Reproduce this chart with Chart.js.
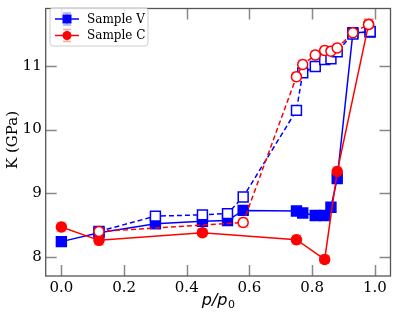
<!DOCTYPE html>
<html>
<head>
<meta charset="utf-8">
<script src="https://cdn.jsdelivr.net/npm/chart.js@4.4.0/dist/chart.umd.min.js"></script>
<style>
  html, body { margin: 0; padding: 0; background: #fff; }
  #wrap { width: 399px; height: 317px; position: relative; }
</style>
</head>
<body>
<div id="wrap"><canvas id="c" width="399" height="317"></canvas></div>
<script>
// ---- data ----
const vAdsX = [0.0, 0.12, 0.30, 0.45, 0.53, 0.58, 0.75, 0.77, 0.81, 0.84, 0.86, 0.88, 0.93, 0.985];
const vAdsY = [8.24, 8.38, 8.52, 8.56, 8.57, 8.73, 8.72, 8.69, 8.65, 8.65, 8.78, 9.23, 11.52, 11.53];
const vAdsErr = [0.04, 0.04, 0.04, 0.04, 0.04, 0.04, 0.04, 0.04, 0.04, 0.04, 0.04, 0.05, 0.05, 0.05];
const vDesX = [0.12, 0.30, 0.45, 0.53, 0.58, 0.75, 0.77, 0.81, 0.84, 0.86, 0.88, 0.93, 0.985];
const vDesY = [8.40, 8.64, 8.66, 8.68, 8.94, 10.30, 10.89, 10.99, 11.10, 11.11, 11.22, 11.50, 11.54];
const vDesErr = [0.04, 0.04, 0.04, 0.04, 0.04, 0.04, 0.04, 0.04, 0.04, 0.04, 0.04, 0.05, 0.05];
const cAdsX = [0.0, 0.12, 0.45, 0.75, 0.84, 0.88, 0.98];
const cAdsY = [8.47, 8.26, 8.38, 8.27, 7.96, 9.34, 11.65];
const cAdsErr = [0.07, 0.07, 0.06, 0.07, 0.06, 0.07, 0.08];
const cDesX = [0.12, 0.58, 0.75, 0.77, 0.81, 0.84, 0.86, 0.88, 0.93, 0.98];
const cDesY = [8.40, 8.54, 10.83, 11.02, 11.17, 11.24, 11.23, 11.28, 11.52, 11.65];
const cDesErr = [0.07, 0.07, 0.07, 0.07, 0.07, 0.07, 0.07, 0.07, 0.07, 0.08];
const xTicks = [0.0, 0.2, 0.4, 0.6, 0.8, 1.0];
const yTicks = [8, 9, 10, 11];
const seriesNames = ['Sample V', 'Sample C'];

const BLUE = '#0000ff', RED = '#ff0000';
const SERIF = '"DejaVu Serif", serif';

function pts(xs, ys) { return xs.map((x, i) => ({ x: x, y: ys[i] })); }

function ds(xs, ys, errs, color, filled, dashed, style, order) {
  return {
    data: pts(xs, ys),
    errors: errs,
    showLine: true,
    borderColor: color,
    backgroundColor: filled ? color : '#ffffff',
    borderWidth: 1.5,
    borderDash: dashed ? [5, 3] : [],
    pointStyle: style,
    pointRadius: style === 'rect' ? 7 : 5,
    pointBorderWidth: 1.5,
    pointBorderColor: color,
    pointBackgroundColor: filled ? color : '#ffffff',
    order: order,
    errColor: color
  };
}

const errorBars = {
  id: 'errorBars',
  beforeDatasetsDraw(chart) {
    const ctx = chart.ctx, ys = chart.scales.y, xs = chart.scales.x;
    chart.data.datasets.forEach(d => {
      ctx.save();
      ctx.strokeStyle = d.errColor;
      ctx.globalAlpha = 0.3;
      ctx.lineWidth = 1.5;
      d.data.forEach((p, i) => {
        const px = xs.getPixelForValue(p.x);
        const y1 = ys.getPixelForValue(p.y - d.errors[i]);
        const y2 = ys.getPixelForValue(p.y + d.errors[i]);
        ctx.beginPath();
        ctx.moveTo(px, y1); ctx.lineTo(px, y2);
        ctx.moveTo(px - 5, y1); ctx.lineTo(px + 5, y1);
        ctx.moveTo(px - 5, y2); ctx.lineTo(px + 5, y2);
        ctx.stroke();
      });
      ctx.restore();
    });
  }
};

const frame = {
  id: 'frame',
  afterDraw(chart) {
    const ctx = chart.ctx, a = chart.chartArea, xs = chart.scales.x, ys = chart.scales.y;
    ctx.save();
    // inward ticks
    ctx.strokeStyle = '#888888';
    ctx.lineWidth = 1.5;
    const L = 11;
    xTicks.forEach(v => {
      const px = Math.round(xs.getPixelForValue(v)) + 0.5;
      ctx.beginPath();
      ctx.moveTo(px, a.bottom); ctx.lineTo(px, a.bottom - L);
      ctx.moveTo(px, a.top); ctx.lineTo(px, a.top + L);
      ctx.stroke();
    });
    yTicks.forEach(v => {
      const py = Math.round(ys.getPixelForValue(v)) + 0.5;
      ctx.beginPath();
      ctx.moveTo(a.left, py); ctx.lineTo(a.left + L, py);
      ctx.moveTo(a.right, py); ctx.lineTo(a.right - L, py);
      ctx.stroke();
    });
    // frame
    ctx.strokeStyle = '#555555';
    ctx.lineWidth = 1.3;
    ctx.strokeRect(a.left, a.top, a.right - a.left, a.bottom - a.top);

    // axis titles
    ctx.fillStyle = '#000';
    ctx.save();
    ctx.translate(13, 140);
    ctx.rotate(-Math.PI / 2);
    ctx.font = '15px ' + SERIF;
    ctx.textAlign = 'center';
    ctx.textBaseline = 'middle';
    ctx.fillText('K (GPa)', 0, 0);
    ctx.restore();

    ctx.font = 'italic 16px "DejaVu Sans", sans-serif';
    ctx.textBaseline = 'alphabetic';
    ctx.textAlign = 'left';
    const t1 = 'p/p';
    const w1 = ctx.measureText(t1).width;
    ctx.font = '11px "DejaVu Sans", sans-serif';
    const w2 = ctx.measureText('0').width;
    const x0 = (a.left + a.right) / 2 - (w1 + w2) / 2;
    ctx.font = 'italic 16px "DejaVu Sans", sans-serif';
    ctx.fillText(t1, x0, 305);
    ctx.font = '11px "DejaVu Sans", sans-serif';
    ctx.fillText('0', x0 + w1 + 0.5, 308);

    // legend
    const lx = 50, ly = 8, lw = 98, lh = 38;
    ctx.globalAlpha = 0.8;
    ctx.fillStyle = '#fff';
    ctx.beginPath();
    ctx.roundRect(lx, ly, lw, lh, 3);
    ctx.fill();
    ctx.globalAlpha = 1;
    ctx.strokeStyle = '#cccccc';
    ctx.lineWidth = 1;
    ctx.stroke();
    const entries = [[seriesNames[0], BLUE, 'rect'], [seriesNames[1], RED, 'circle']];
    entries.forEach((e, i) => {
      const cy = 19 + i * 16.5;
      ctx.strokeStyle = e[1];
      ctx.fillStyle = e[1];
      ctx.lineWidth = 1.5;
      ctx.beginPath();
      ctx.moveTo(55, cy); ctx.lineTo(79, cy);
      ctx.stroke();
      ctx.save();
      ctx.globalAlpha = 0.35;
      ctx.beginPath();
      ctx.moveTo(67, cy - 6); ctx.lineTo(67, cy + 6);
      ctx.moveTo(63, cy - 6); ctx.lineTo(71, cy - 6);
      ctx.moveTo(63, cy + 6); ctx.lineTo(71, cy + 6);
      ctx.stroke();
      ctx.restore();
      ctx.beginPath();
      if (e[2] === 'rect') ctx.rect(62.5, cy - 4.5, 9, 9);
      else ctx.arc(67, cy, 4.5, 0, Math.PI * 2);
      ctx.fill();
      ctx.fillStyle = '#000';
      ctx.font = '12px ' + SERIF;
      ctx.textBaseline = 'middle';
      ctx.fillText(e[0], 87, cy + 0.5);
    });
    ctx.restore();
  }
};

new Chart(document.getElementById('c'), {
  type: 'scatter',
  data: {
    datasets: [
      ds(vAdsX, vAdsY, vAdsErr, BLUE, true, false, 'rect', 4),
      ds(vDesX, vDesY, vDesErr, BLUE, false, true, 'rect', 3),
      ds(cAdsX, cAdsY, cAdsErr, RED, true, false, 'circle', 2),
      ds(cDesX, cDesY, cDesErr, RED, false, true, 'circle', 1)
    ]
  },
  options: {
    responsive: false,
    animation: false,
    layout: { padding: { left: 0, right: 4.7, top: 3.6, bottom: 0 } },
    plugins: { legend: { display: false }, tooltip: { enabled: false } },
    scales: {
      x: {
        type: 'linear', min: -0.05, max: 1.05,
        afterFit(s) { s.height = 41; s.paddingLeft = 0; s.paddingRight = 0; },
        afterBuildTicks(s) { s.ticks = xTicks.map(v => ({ value: v })); },
        grid: { display: false, drawTicks: false },
        border: { display: false },
        ticks: {
          color: '#000', padding: 3,
          font: { family: SERIF, size: 15 },
          callback: v => v.toFixed(1)
        }
      },
      y: {
        type: 'linear', min: 7.7, max: 11.9,
        afterFit(s) { s.width = 45.7; s.paddingTop = 0; s.paddingBottom = 0; },
        afterBuildTicks(s) { s.ticks = yTicks.map(v => ({ value: v })); },
        grid: { display: false, drawTicks: false },
        border: { display: false },
        ticks: {
          color: '#000', padding: 4,
          font: { family: SERIF, size: 15 },
          callback: v => String(v)
        }
      }
    }
  },
  plugins: [errorBars, frame]
});
</script>
</body>
</html>
